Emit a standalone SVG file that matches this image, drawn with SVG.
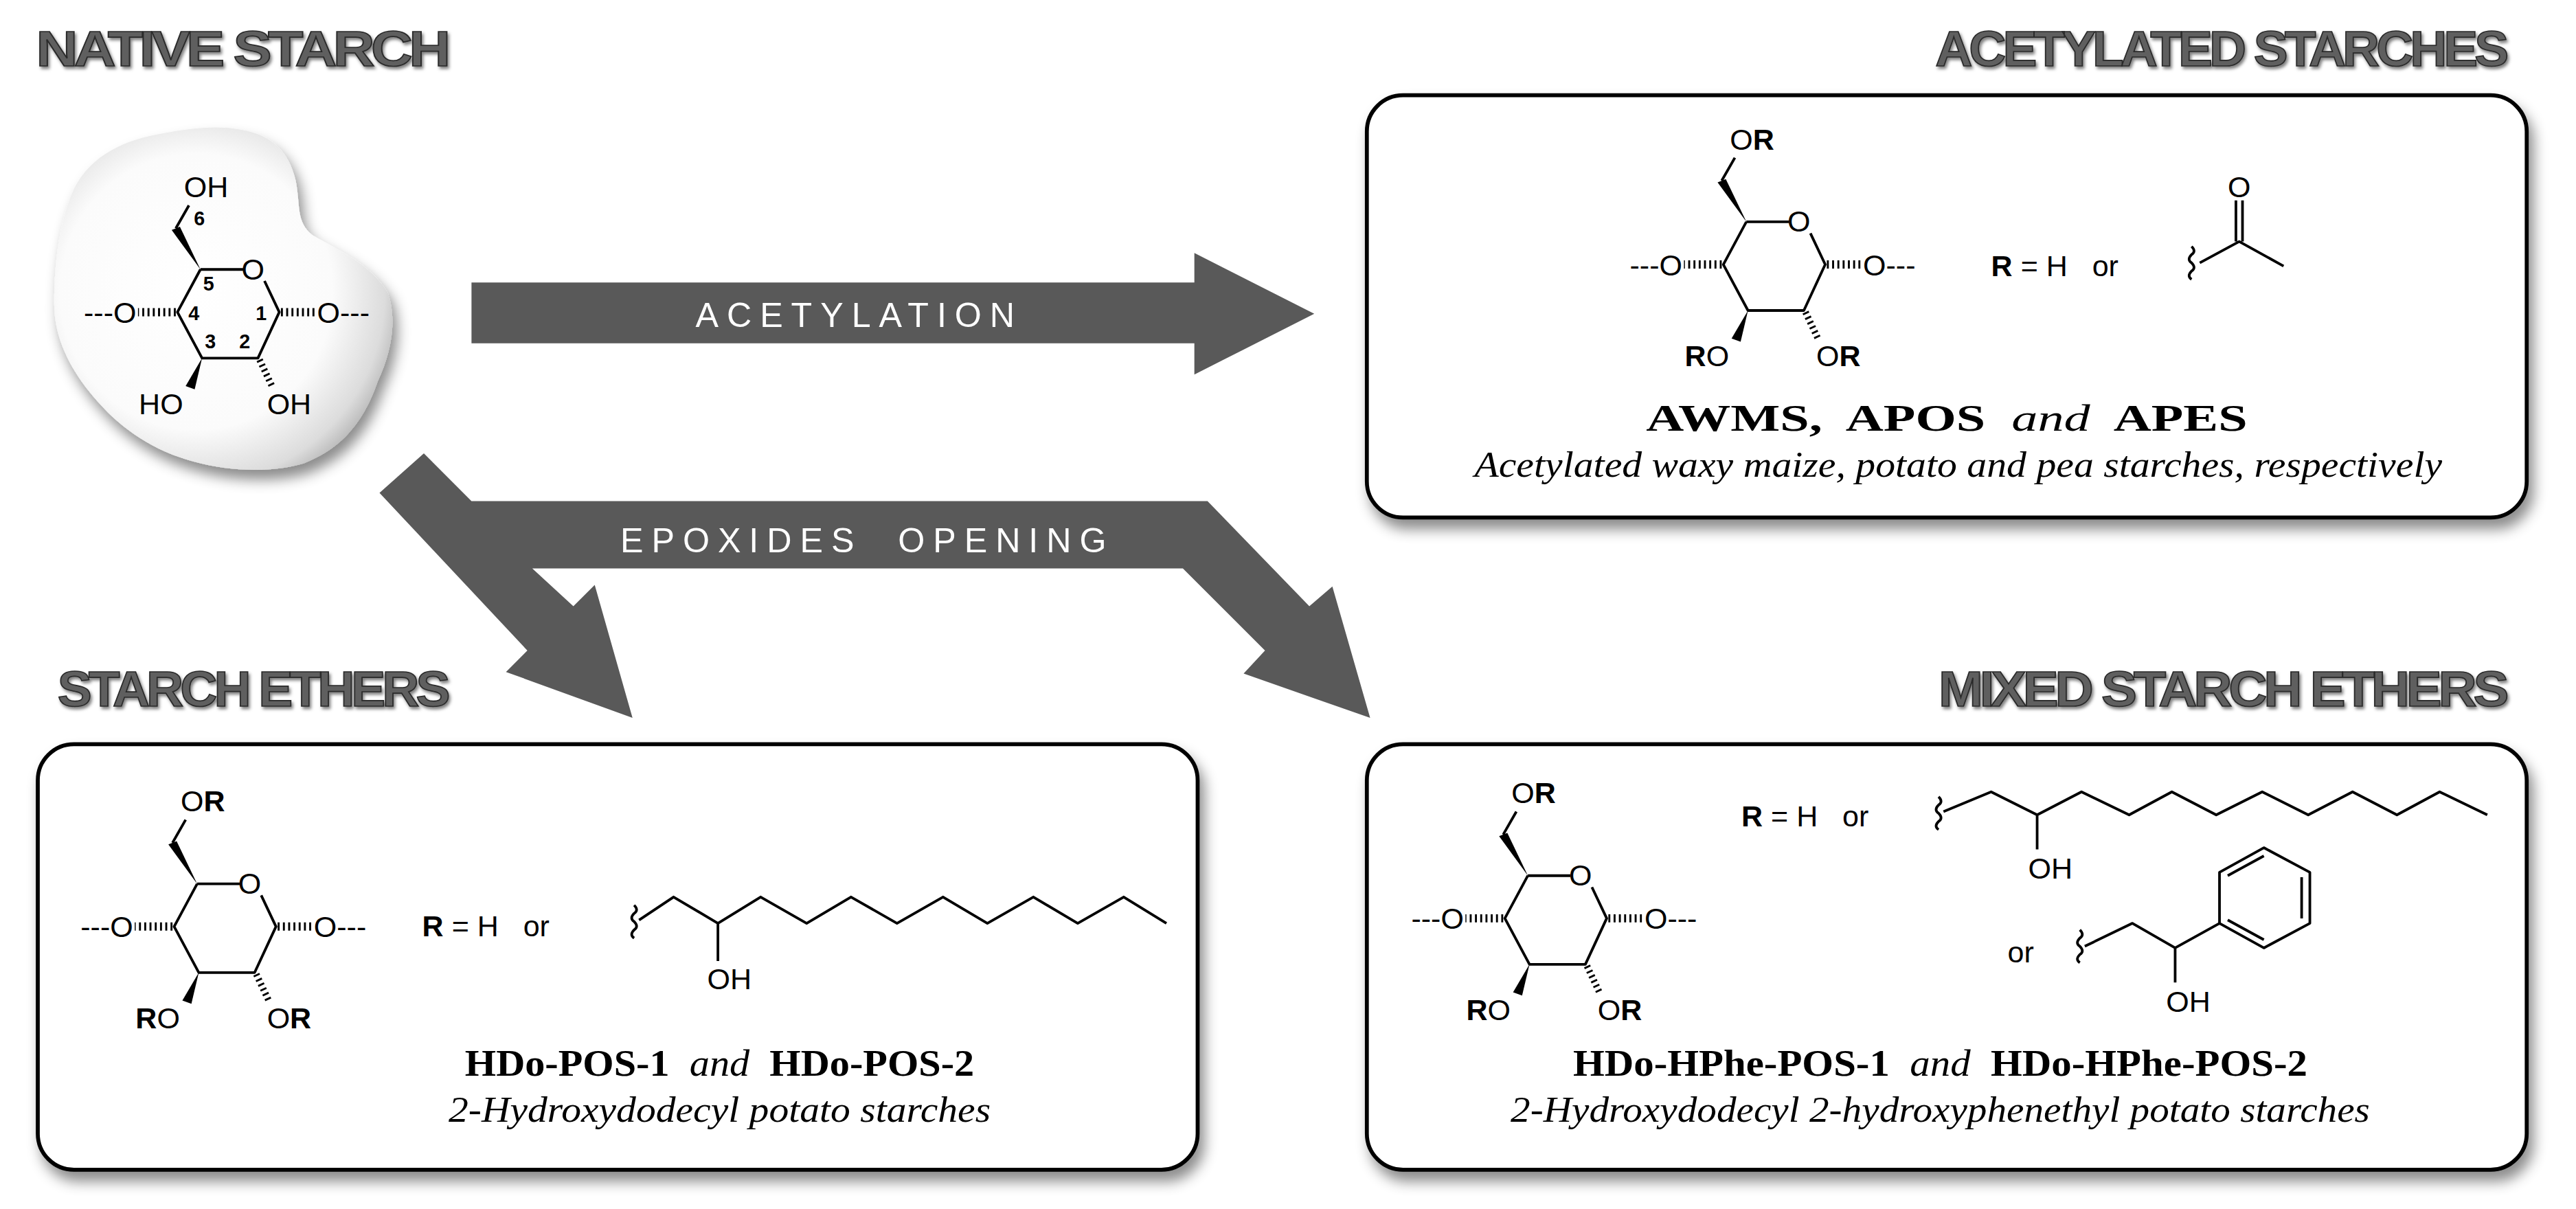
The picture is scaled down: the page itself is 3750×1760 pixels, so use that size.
<svg xmlns="http://www.w3.org/2000/svg" xmlns:xlink="http://www.w3.org/1999/xlink" width="3750" height="1760" viewBox="0 0 3750 1760">
<style>
text{white-space:pre}
.hdr{font-family:"Liberation Sans",Arial,sans-serif;font-weight:bold;font-size:30px;fill:#5e5e5e;stroke:#2a2a2a;stroke-width:0.7;letter-spacing:-2px}
.lbl{font-family:"Liberation Sans",Arial,sans-serif;font-size:18px;fill:#000}
.num{font-family:"Liberation Sans",Arial,sans-serif;font-size:12px;font-weight:bold;fill:#000}
.arr{font-family:"Liberation Sans",Arial,sans-serif;font-size:21px;fill:#fff;letter-spacing:5px}
.cap{font-family:"Liberation Serif","Times New Roman",serif;font-size:23px;font-weight:bold;fill:#000}
.capi{font-family:"Liberation Serif","Times New Roman",serif;font-size:22px;font-style:italic;fill:#000}
.bond{fill:none;stroke:#000;stroke-width:1.6;stroke-linejoin:round}
.hash{fill:none;stroke:#000;stroke-width:5;stroke-dasharray:1.2 2}
.box{fill:#fff;stroke:#000;stroke-width:2.4}
.shape{fill:#595959}
</style>
<defs>
<filter id="sh" x="-10%" y="-10%" width="125%" height="130%">
<feDropShadow dx="3" dy="6" stdDeviation="4" flood-color="#000" flood-opacity="0.45"/>
</filter>
<filter id="hsh" x="-5%" y="-20%" width="110%" height="150%">
<feDropShadow dx="1" dy="1.5" stdDeviation="1" flood-color="#000" flood-opacity="0.5"/>
</filter>
<radialGradient id="blobg" cx="0.42" cy="0.48" r="0.62">
<stop offset="0" stop-color="#fff"/>
<stop offset="0.65" stop-color="#fbfbfb"/>
<stop offset="0.9" stop-color="#dcdcdc"/>
<stop offset="1" stop-color="#b8b8b8"/>
</radialGradient>
<g id="ring">
<path class="bond" d="M14,-26 L40,-26 M53,-19 L62,0 L49,28 L15,28 L0,0 L14,-26 M-1,-51 L7,-65"/>
<polygon points="14,-26 -3.5,-50 1.5,-52" fill="#000"/>
<polygon points="15,28 5,45 10.5,47" fill="#000"/>
<line class="hash" x1="-1" y1="0" x2="-24" y2="0"/>
<line class="hash" x1="63" y1="0" x2="85" y2="0"/>
<line class="hash" x1="50" y1="29" x2="58" y2="46" style="stroke-width:4"/>
</g>
</defs>
<rect width="3750" height="1760" fill="#fff"/>
<g transform="scale(2.39158)">
<g id="headers" filter="url(#hsh)">
<text class="hdr" x="22" y="40" textLength="250" lengthAdjust="spacingAndGlyphs">NATIVE STARCH</text>
<text class="hdr" x="1178" y="40" textLength="347" lengthAdjust="spacingAndGlyphs">ACETYLATED STARCHES</text>
<text class="hdr" x="35" y="430" textLength="237" lengthAdjust="spacingAndGlyphs">STARCH ETHERS</text>
<text class="hdr" x="1180" y="430" textLength="345" lengthAdjust="spacingAndGlyphs">MIXED STARCH ETHERS</text>
</g>
<g id="native-starch">
<path filter="url(#sh)" fill="url(#blobg)" d="M147,79 C165,82 176,92 180,110 C183,125 180,135 190,143 C205,152 225,160 236,178 C242,195 238,215 230,232 C222,255 210,272 185,282 C165,288 140,287 118,281 C95,275 75,262 60,245 C42,225 33,205 33,185 C33,160 36,135 45,115 C55,95 75,85 100,81 C115,78 133,76 147,79 Z"/>
<g transform="translate(108,190)">
<use xlink:href="#ring"/>
<text class="lbl" x="46" y="-20" text-anchor="middle">O</text>
<text class="lbl" x="-25" y="6.5" text-anchor="end">---O</text>
<text class="lbl" x="85" y="6.5">O---</text>
<text class="lbl" x="4" y="-70">OH</text>
<text class="lbl" x="-10" y="62" text-anchor="middle">HO</text>
<text class="lbl" x="68" y="62" text-anchor="middle">OH</text>
<text class="num" x="10" y="-53">6</text>
<text class="num" x="19" y="-13" text-anchor="middle">5</text>
<text class="num" x="10" y="5" text-anchor="middle">4</text>
<text class="num" x="51" y="5" text-anchor="middle">1</text>
<text class="num" x="20" y="22" text-anchor="middle">3</text>
<text class="num" x="41" y="22" text-anchor="middle">2</text>
</g>
</g>
<g id="connectors">
<polygon class="shape" points="287,172 727,172 727,154 800,191 727,228 727,209 287,209"/>
<text class="arr" x="523" y="199" text-anchor="middle">ACETYLATION</text>
<polygon class="shape" points="258,276 287,305 735,305 797,369 811,357 834,437 757,410 770,396 720,346 324,346 349,369 362,356 385,437 308,409 321,396 231,300"/>
<text class="arr" x="528" y="336" text-anchor="middle">EPOXIDES  OPENING</text>
</g>
<g id="acetylated-starches">
<rect class="box" filter="url(#sh)" x="832" y="58" width="706" height="257" rx="22"/>
<g transform="translate(1049,161)">
<use xlink:href="#ring"/>
<text class="lbl" x="46" y="-20" text-anchor="middle">O</text>
<text class="lbl" x="-25" y="6.5" text-anchor="end">---O</text>
<text class="lbl" x="85" y="6.5">O---</text>
<text class="lbl" x="4" y="-70">O<tspan font-weight="bold">R</tspan></text>
<text class="lbl" x="-10" y="62" text-anchor="middle"><tspan font-weight="bold">R</tspan>O</text>
<text class="lbl" x="70" y="62" text-anchor="middle">O<tspan font-weight="bold">R</tspan></text>
</g>
<text class="lbl" x="1212" y="168"><tspan font-weight="bold">R</tspan> = H   or</text>
<path class="bond" d="M1334,150 q3,3 0,5 q-3,3 0,5 q3,3 0,5 q-3,3 0,5 M1339,160 L1363,147 L1390,162 M1361,147 L1361,122 M1365,147 L1365,122"/>
<text class="lbl" x="1363" y="120" text-anchor="middle">O</text>
<text class="cap" x="1185" y="262" text-anchor="middle" textLength="366" lengthAdjust="spacingAndGlyphs">AWMS,  APOS  <tspan font-style="italic" font-weight="normal">and</tspan>  APES</text>
<text class="capi" x="1192" y="290" text-anchor="middle" textLength="589" lengthAdjust="spacingAndGlyphs">Acetylated waxy maize, potato and pea starches, respectively</text>
</g>
<g id="starch-ethers">
<rect class="box" filter="url(#sh)" x="23" y="453" width="706" height="259" rx="22"/>
<g transform="translate(106,564)">
<use xlink:href="#ring"/>
<text class="lbl" x="46" y="-20" text-anchor="middle">O</text>
<text class="lbl" x="-25" y="6.5" text-anchor="end">---O</text>
<text class="lbl" x="85" y="6.5">O---</text>
<text class="lbl" x="4" y="-70">O<tspan font-weight="bold">R</tspan></text>
<text class="lbl" x="-10" y="62" text-anchor="middle"><tspan font-weight="bold">R</tspan>O</text>
<text class="lbl" x="70" y="62" text-anchor="middle">O<tspan font-weight="bold">R</tspan></text>
</g>
<text class="lbl" x="257" y="570"><tspan font-weight="bold">R</tspan> = H   or</text>
<path class="bond" d="M386,551 q3,3 0,5 q-3,3 0,5 q3,3 0,5 q-3,3 0,5 M389,560 L410,546 L437,562 L463,546 L491,562 L518,546 L546,562 L574,546 L601,562 L629,546 L656,562 L684,546 L710,562 M437,562 L437,585"/>
<text class="lbl" x="444" y="602" text-anchor="middle">OH</text>
<text class="cap" x="438" y="655" text-anchor="middle" textLength="310" lengthAdjust="spacingAndGlyphs">HDo-POS-1  <tspan font-style="italic" font-weight="normal">and</tspan>  HDo-POS-2</text>
<text class="capi" x="438" y="683" text-anchor="middle" textLength="330" lengthAdjust="spacingAndGlyphs">2-Hydroxydodecyl potato starches</text>
</g>
<g id="mixed-starch-ethers">
<rect class="box" filter="url(#sh)" x="832" y="453" width="706" height="259" rx="22"/>
<g transform="translate(916,559)">
<use xlink:href="#ring"/>
<text class="lbl" x="46" y="-20" text-anchor="middle">O</text>
<text class="lbl" x="-25" y="6.5" text-anchor="end">---O</text>
<text class="lbl" x="85" y="6.5">O---</text>
<text class="lbl" x="4" y="-70">O<tspan font-weight="bold">R</tspan></text>
<text class="lbl" x="-10" y="62" text-anchor="middle"><tspan font-weight="bold">R</tspan>O</text>
<text class="lbl" x="70" y="62" text-anchor="middle">O<tspan font-weight="bold">R</tspan></text>
</g>
<text class="lbl" x="1060" y="503"><tspan font-weight="bold">R</tspan> = H   or</text>
<path class="bond" d="M1180,485 q3,3 0,5 q-3,3 0,5 q3,3 0,5 q-3,3 0,5 M1183,494 L1212,482 L1240,496 L1267,482 L1296,496 L1322,482 L1349,496 L1377,482 L1405,496 L1432,482 L1459,496 L1485,482 L1514,496 M1240,496 L1240,517"/>
<text class="lbl" x="1248" y="535" text-anchor="middle">OH</text>
<text class="lbl" x="1222" y="586">or</text>
<path class="bond" d="M1266,566 q3,3 0,5 q-3,3 0,5 q3,3 0,5 q-3,3 0,5 M1269,576 L1298,562 L1324,577 L1351,562 M1324,577 L1324,598 M1351,562 L1351,531 L1378,516 L1406,531 L1406,562 L1378,577 Z M1356,533 L1378,521 M1401,534 L1401,559 M1378,572 L1356,560"/>
<text class="lbl" x="1332" y="616" text-anchor="middle">OH</text>
<text class="cap" x="1181" y="655" text-anchor="middle" textLength="447" lengthAdjust="spacingAndGlyphs">HDo-HPhe-POS-1  <tspan font-style="italic" font-weight="normal">and</tspan>  HDo-HPhe-POS-2</text>
<text class="capi" x="1181" y="683" text-anchor="middle" textLength="523" lengthAdjust="spacingAndGlyphs">2-Hydroxydodecyl 2-hydroxyphenethyl potato starches</text>
</g>
</g>
</svg>
